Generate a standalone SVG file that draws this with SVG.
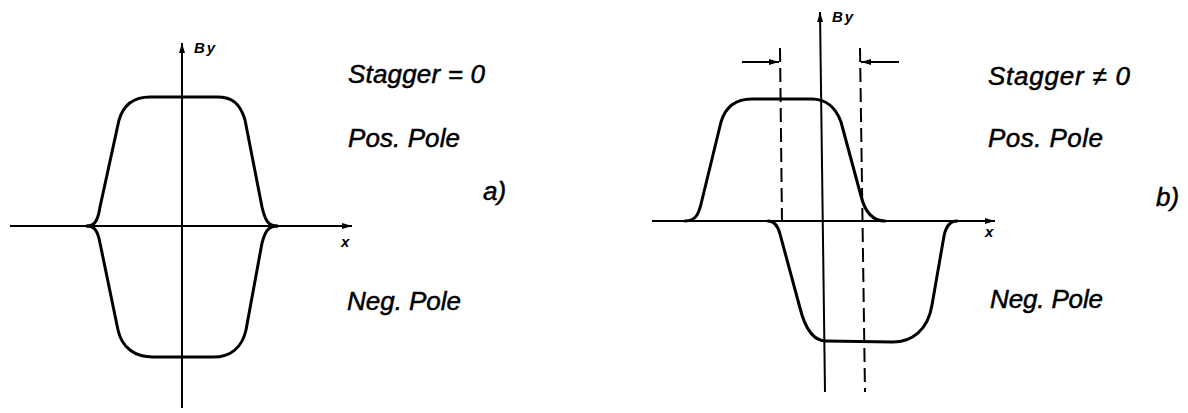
<svg xmlns="http://www.w3.org/2000/svg" width="1188" height="413" viewBox="0 0 1188 413">
<style>
.axis{stroke:#000;stroke-width:2;fill:none}
.curve{stroke:#000;stroke-width:3;fill:none;stroke-linejoin:round;stroke-linecap:round}
.dash{stroke:#000;stroke-width:2;fill:none;stroke-dasharray:14 6}
.lbl{font-family:"Liberation Sans",Arial,sans-serif;font-style:italic;font-size:26px;fill:#000;stroke:#000;stroke-width:0.5}
.ax{font-family:"Liberation Sans",Arial,sans-serif;font-style:italic;font-weight:bold;font-size:15px;fill:#000}
</style>
<defs>
<marker id="ah" viewBox="0 0 10 6" refX="10" refY="3" markerWidth="10" markerHeight="6" markerUnits="userSpaceOnUse" orient="auto">
<path d="M0,0 L10,3 L0,6 Z" fill="#000"/>
</marker>
</defs>
<rect width="1188" height="413" fill="#fff"/>
<g id="connectors">
<line class="axis" x1="182" y1="408" x2="182" y2="43" marker-end="url(#ah)"/>
<line class="axis" x1="10" y1="226" x2="352" y2="226" marker-end="url(#ah)"/>
<line class="axis" x1="825" y1="392" x2="820" y2="12" marker-end="url(#ah)"/>
<line class="axis" x1="652" y1="221" x2="995" y2="221" marker-end="url(#ah)"/>
<line class="dash" x1="780" y1="48" x2="782" y2="222"/>
<line class="dash" x1="860" y1="48" x2="865" y2="392"/>
<line class="axis" x1="742" y1="62" x2="779" y2="62" marker-end="url(#ah)"/>
<line class="axis" x1="899" y1="62" x2="861" y2="62" marker-end="url(#ah)"/>
</g>
<g id="curve-a-pos">
<path class="curve" d="M87,226 C95,226 98,220 100,207 L119,120 C124,103 135,97 150,97 L217,97 C232,97 240,103 245,120 L262,207 C265,220 268,226 277,226"/>
</g>
<g id="curve-a-neg">
<path class="curve" d="M87,226 C95,226 98,232 100,243 L118,330 C122,348 135,357 153,357 L213,357 C230,357 242,348 246,330 L262,243 C265,232 268,226 277,226"/>
</g>
<g id="curve-b-pos">
<path class="curve" d="M685,221 C696,221 699,214 702,200 L721,122 C726,105 737,99 752,99 L812,99 C826,99 836,108 841,122 L861,196 C865,212 872,221 885,221"/>
</g>
<g id="curve-b-neg">
<path class="curve" d="M768,221 C775,221 778,226 780,234 L800,308 C805,328 813,341 826,341 L893,342 C912,342 928,330 932,305 L944,236 C946,226 950,221 957,221"/>
</g>
<g id="labels">
<text class="ax" x="194" y="53" letter-spacing="2">By</text>
<text class="ax" x="341" y="247">x</text>
<text class="ax" x="832" y="22" letter-spacing="2">By</text>
<text class="ax" x="985" y="237">x</text>
<text class="lbl" x="348" y="83" textLength="137" lengthAdjust="spacing">Stagger = 0</text>
<text class="lbl" x="348" y="147" textLength="112" lengthAdjust="spacing">Pos. Pole</text>
<text class="lbl" x="347" y="310" textLength="114" lengthAdjust="spacing">Neg. Pole</text>
<text class="lbl" x="483" y="200">a)</text>
<text class="lbl" x="988" y="85" textLength="142" lengthAdjust="spacing">Stagger ≠ 0</text>
<text class="lbl" x="988" y="147" textLength="115" lengthAdjust="spacing">Pos. Pole</text>
<text class="lbl" x="990" y="308" textLength="113" lengthAdjust="spacing">Neg. Pole</text>
<text class="lbl" x="1156" y="206">b)</text>
</g>
</svg>
